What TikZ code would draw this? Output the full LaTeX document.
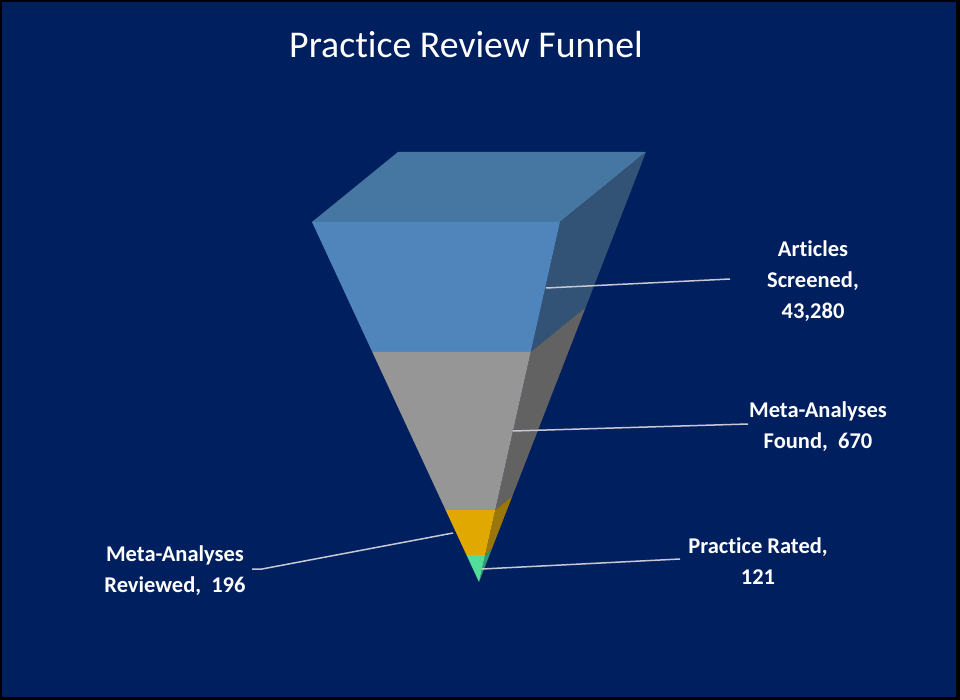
\documentclass[tikz,border=0pt]{standalone}
\usepackage{fontspec}
\setmainfont{Carlito}[Ligatures=NoCommon]
\usetikzlibrary{calc}
\definecolor{navy}{RGB}{0,31,95}
\definecolor{frontblue}{RGB}{80,133,187}
\definecolor{topblue}{RGB}{70,118,162}
\definecolor{sideblue}{RGB}{50,82,118}
\definecolor{frontgray}{RGB}{150,150,150}
\definecolor{sidegray}{RGB}{98,98,98}
\definecolor{frontgold}{RGB}{224,168,0}
\definecolor{sidegold}{RGB}{155,118,10}
\definecolor{frontgreen}{RGB}{82,222,152}
\definecolor{sidegreen}{RGB}{50,150,110}
\definecolor{leader}{RGB}{200,200,212}
\tikzset{
  lbl/.style={text=white, font=\fontsize{22.5}{31}\selectfont\bfseries, align=center, inner sep=0pt},
  leaderline/.style={draw=leader, line width=1.5pt},
}
\begin{document}
\begin{tikzpicture}[x=1pt,y=-1pt]
\useasboundingbox (0,0) rectangle (960,700);
\fill[black] (0,0) rectangle (960,700);
\fill[navy] (2,2) rectangle (956,697);
% funnel geometry
\coordinate (TL) at (312,222);
\coordinate (TR) at (560,222);
\coordinate (BR) at (646,152);
\coordinate (BL) at (398,152);
\coordinate (A) at (479,582);
\foreach \n/\t in {1/0.3611,2/0.8,3/0.925}{
  \coordinate (L\n) at ($(TL)!\t!(A)$);
  \coordinate (R\n) at ($(TR)!\t!(A)$);
  \coordinate (S\n) at ($(BR)!\t!(A)$);
}
% top face
\fill[topblue] (TL) -- (BL) -- (BR) -- (TR) -- cycle;
% side faces
\fill[sideblue] (TR) -- (BR) -- (S1) -- (R1) -- cycle;
\fill[sidegray] (R1) -- (S1) -- (S2) -- (R2) -- cycle;
\fill[sidegold] (R2) -- (S2) -- (S3) -- (R3) -- cycle;
\fill[sidegreen] (R3) -- (S3) -- (A) -- cycle;
% front faces
\fill[frontblue] (TL) -- (TR) -- (R1) -- (L1) -- cycle;
\fill[frontgray] (L1) -- (R1) -- (R2) -- (L2) -- cycle;
\fill[frontgold] (L2) -- (R2) -- (R3) -- (L3) -- cycle;
\fill[frontgreen] (L3) -- (R3) -- (A) -- cycle;
% title
\node[text=white, font=\fontsize{37.8}{42}\selectfont, inner sep=0pt] (title) at (466,45) {Practice Review Funnel};
% labels
\node[lbl] (art) at (813,281) {Articles\\Screened,\\43,280};
\node[lbl] (found) at (818,427) {Meta-Analyses\\Found,~ 670};
\node[lbl] (rev) at (175,571) {Meta-Analyses\\Reviewed,~ 196};
\node[lbl] (rated) at (758,561) {Practice Rated,\\121};
% leader lines
\coordinate (artA) at (546,288);
\coordinate (artB) at (730,279);
\coordinate (fndA) at (513,431);
\coordinate (fndB) at (748,424);
\coordinate (revA) at (453,533);
\coordinate (revB) at (262,569);
\coordinate (revC) at (252,569);
\coordinate (ratA) at (482,569);
\coordinate (ratB) at (680,559);
\draw[leaderline] (artA) -- (artB);
\draw[leaderline] (fndA) -- (fndB);
\draw[leaderline] (revA) -- (revB) -- (revC);
\draw[leaderline] (ratA) -- (ratB);
\end{tikzpicture}
\end{document}
